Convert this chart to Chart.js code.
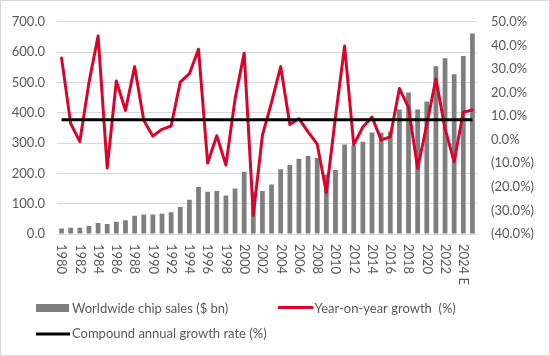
<!DOCTYPE html>
<html><head><meta charset="utf-8">
<script src="https://cdn.jsdelivr.net/npm/chart.js@4.4.0/dist/chart.umd.min.js"></script>
<style>html,body{margin:0;padding:0;background:#fff;}#wrap{width:550px;height:356px;}</style>
</head><body><div id="wrap"><canvas id="c" width="550" height="356"></canvas></div>
<script>
const years = ['1980','1981','1982','1983','1984','1985','1986','1987','1988','1989','1990','1991','1992','1993','1994','1995','1996','1997','1998','1999','2000','2001','2002','2003','2004','2005','2006','2007','2008','2009','2010','2011','2012','2013','2014','2015','2016','2017','2018','2019','2020','2021','2022','2023','2024 E','2025 E'];
const chipSales = [18,21,21,26,36,33,40,45,60,64,64,67,72,89,113,155,139,142,127,150,205,139,142,163,214,228,248,257,251,196,211,295,292,304,335,334,338,411,467,411,437,553,580,527,587,661];
const yoyGrowth = [34.6,6.8,-0.8,24.2,44.0,-12.0,24.9,12.4,31.0,8.2,1.5,4.4,5.8,24.4,28.0,38.3,-9.9,1.7,-10.8,17.2,36.7,-32.0,1.9,15.8,31.0,6.4,8.9,3.3,-1.9,-22.4,9.6,39.7,-2.2,5.4,9.6,-0.1,1.2,21.7,13.7,-12.2,6.4,25.8,4.7,-9.4,11.7,12.6];
const cagrRate = 8.5;
const seriesNames = ['Worldwide chip sales ($ bn)','Year-on-year growth  (%)','Compound annual growth rate (%)'];

const TXT = '#595959';
const FONT = 'Lato';

const framePlugin = {
  id:'frame',
  beforeDraw(chart){const c=chart.ctx;c.save();c.fillStyle='#fff';c.fillRect(0,0,chart.width,chart.height);c.restore();},
  afterDraw(chart){const c=chart.ctx;c.save();c.strokeStyle='#d9d9d9';c.lineWidth=1;c.strokeRect(0.5,0.5,chart.width-1,chart.height-1);c.restore();}
};

const xLabelPlugin = {
  id:'xLabels',
  afterDraw(chart){
    const sx=chart.scales.x, c=chart.ctx;
    c.save();c.font='13px '+FONT;c.fillStyle=TXT;c.textAlign='left';c.textBaseline='middle';
    chart.data.labels.forEach((lab,i)=>{
      if(i%2) return;
      const x=sx.getPixelForValue(i);
      c.save();c.translate(x,sx.top+10);c.rotate(Math.PI/2);c.fillText(lab,0,0);c.restore();
    });
    c.restore();
  }
};

const legendPlugin = {
  id:'customLegend',
  afterDraw(chart){
    const c=chart.ctx, ds=chart.data.datasets;
    const bar=ds.find(d=>d.type==='bar'), red=ds.find(d=>d.label===seriesNames[1]), blk=ds.find(d=>d.label===seriesNames[2]);
    c.save();c.font='13px '+FONT;c.fillStyle=TXT;c.textBaseline='middle';c.textAlign='left';
    // item 1
    c.fillStyle=bar.backgroundColor;c.fillRect(36,304,33,8);
    c.fillStyle=TXT;c.fillText(bar.label,72,308.5);
    // item 2
    c.strokeStyle=red.borderColor;c.lineWidth=3;c.beginPath();c.moveTo(278,307.5);c.lineTo(313,307.5);c.stroke();
    c.fillText(red.label,314.5,308.5);
    // item 3
    c.strokeStyle=blk.borderColor;c.beginPath();c.moveTo(36,334);c.lineTo(70,334);c.stroke();
    c.fillText(blk.label,72,334);
    c.restore();
  }
};

new Chart(document.getElementById('c'),{
  data:{
    labels:years,
    datasets:[
      {type:'line',label:seriesNames[2],data:[{x:years[0],y:cagrRate},{x:years[years.length-1],y:cagrRate}],yAxisID:'y1',borderColor:'#000000',borderWidth:3,pointRadius:0,order:0},
      {type:'line',label:seriesNames[1],data:yoyGrowth,yAxisID:'y1',borderColor:'#d9042b',borderWidth:3,pointRadius:0,borderJoinStyle:'round',borderCapStyle:'round',tension:0,order:1},
      {type:'bar',label:seriesNames[0],data:chipSales,yAxisID:'y',backgroundColor:'#7f7f7f',categoryPercentage:1,barPercentage:0.52,order:2}
    ]
  },
  options:{
    responsive:false,animation:false,devicePixelRatio:1,
    layout:{padding:{top:18,left:0,right:0,bottom:0}},
    plugins:{legend:{display:false},tooltip:{enabled:false}},
    scales:{
      x:{grid:{display:false},border:{display:false},ticks:{display:false},afterFit(s){s.height=122;}},
      y:{position:'left',min:0,max:700,
         ticks:{stepSize:100,callback:v=>Number(v).toFixed(1),color:TXT,font:{family:FONT,size:13},padding:12},
         grid:{color:'#d9d9d9',drawTicks:false,lineWidth:1},border:{display:false},
         afterFit(s){s.width=57;}},
      y1:{position:'right',min:-40,max:50,
         ticks:{stepSize:10,callback:v=>v<0?'('+Math.abs(v).toFixed(1)+'%)':Number(v).toFixed(1)+'%',color:TXT,font:{family:FONT,size:13},padding:14},
         grid:{display:false,drawTicks:false},border:{display:false},
         afterFit(s){s.width=73;}}
    }
  },
  plugins:[framePlugin,xLabelPlugin,legendPlugin]
});
</script></body></html>
